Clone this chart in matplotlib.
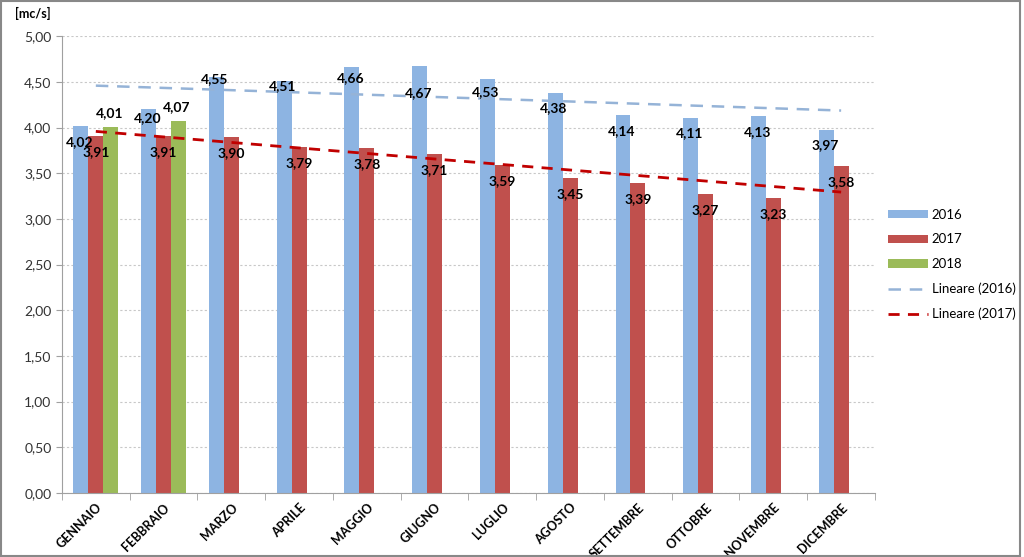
import numpy as np
import matplotlib.pyplot as plt
from matplotlib.patches import Rectangle
from matplotlib.ticker import FuncFormatter, MultipleLocator

plt.rcParams['font.family'] = ['Lato', 'DejaVu Sans']

mesi = ['GENNAIO', 'FEBBRAIO', 'MARZO', 'APRILE', 'MAGGIO', 'GIUGNO',
        'LUGLIO', 'AGOSTO', 'SETTEMBRE', 'OTTOBRE', 'NOVEMBRE', 'DICEMBRE']
v2016 = [4.02, 4.20, 4.55, 4.51, 4.66, 4.67, 4.53, 4.38, 4.14, 4.11, 4.13, 3.97]
v2017 = [3.91, 3.91, 3.90, 3.79, 3.78, 3.71, 3.59, 3.45, 3.39, 3.27, 3.23, 3.58]
v2018 = [4.01, 4.07]

# label drop below the bar top (points), as placed by hand in the original
drop2016 = [12, 6, 1, 4, 8, 19, 9, 11, 12, 11, 12, 11]

c16, c17, c18 = '#8DB4E2', '#C0504D', '#9BBB59'
w = 0.22

fig = plt.figure(figsize=(10.24, 5.57), dpi=100)
ax = fig.add_axes([0.0605, 0.115, 0.794, 0.82])

x = np.arange(len(mesi))
b1 = ax.bar(x - w, v2016, w, color=c16, label='2016', zorder=2)
b2 = ax.bar(x, v2017, w, color=c17, label='2017', zorder=2)
b3 = ax.bar(x[:len(v2018)] + w, v2018, w, color=c18, label='2018', zorder=2)

# linear trend lines
trend = []
for vals, col, lw, dash, lab in [(v2016, '#95B3D7', 1.8, (5, 3.5), 'Lineare (2016)'),
                                 (v2017, '#C00000', 2.0, (4, 3), 'Lineare (2017)')]:
    k, q = np.polyfit(x, vals, 1)
    trend += ax.plot(x, k * x + q, color=col, lw=lw, dashes=dash, label=lab, zorder=3)

fmt = lambda v: f'{v:.2f}'.replace('.', ',')
lbl = dict(ha='center', va='center', fontsize=10, fontweight='bold', color='black', zorder=4,
           textcoords='offset points')
for i, v in enumerate(v2016):
    ax.annotate(fmt(v), (x[i] - w, v), xytext=(-1, -drop2016[i]), **lbl)
for i, v in enumerate(v2017):
    ax.annotate(fmt(v), (x[i], v), xytext=(0, -11.5), **lbl)
for i, v in enumerate(v2018):
    ax.annotate(fmt(v), (x[i] + w, v), xytext=(-1, 10), **lbl)

ax.set_xlim(-0.5, len(mesi) - 0.5)
ax.set_ylim(0, 5)
ax.yaxis.set_major_locator(MultipleLocator(0.5))
ax.yaxis.set_major_formatter(FuncFormatter(lambda v, p: fmt(v)))
ax.grid(axis='y', color='#C8C8C8', linestyle=(0, (2, 2)), lw=0.8, zorder=0)

ax.set_xticks(x)
ax.set_xticklabels(mesi, rotation=45, ha='right', rotation_mode='anchor',
                   fontsize=9, fontweight='bold')
ax.tick_params(axis='x', length=0, pad=6)
ax.set_xticks(np.arange(-0.5, len(mesi)), minor=True)
ax.tick_params(axis='x', which='minor', length=5, color='#A0A0A0')
ax.tick_params(axis='y', labelsize=10, labelcolor='#333333', length=4, color='#A0A0A0')

for s in ['top', 'right']:
    ax.spines[s].set_visible(False)
for s in ['left', 'bottom']:
    ax.spines[s].set_color('#A0A0A0')

fig.text(0.015, 0.975, '[mc/s]', fontsize=9, fontweight='bold', va='center')

fig.legend([b1, b2, b3] + trend, ['2016', '2017', '2018', 'Lineare (2016)', 'Lineare (2017)'],
           loc='center left', bbox_to_anchor=(0.862, 0.525), frameon=False, fontsize=9.5,
           handlelength=3.0, handleheight=0.6, labelspacing=0.95, handletextpad=0.3,
           borderaxespad=0)

fig.add_artist(Rectangle((0.001, 0.001), 0.995, 0.998, transform=fig.transFigure,
                         fill=False, edgecolor='#888888', lw=1.5))

fig.savefig('out.png', dpi=100)
